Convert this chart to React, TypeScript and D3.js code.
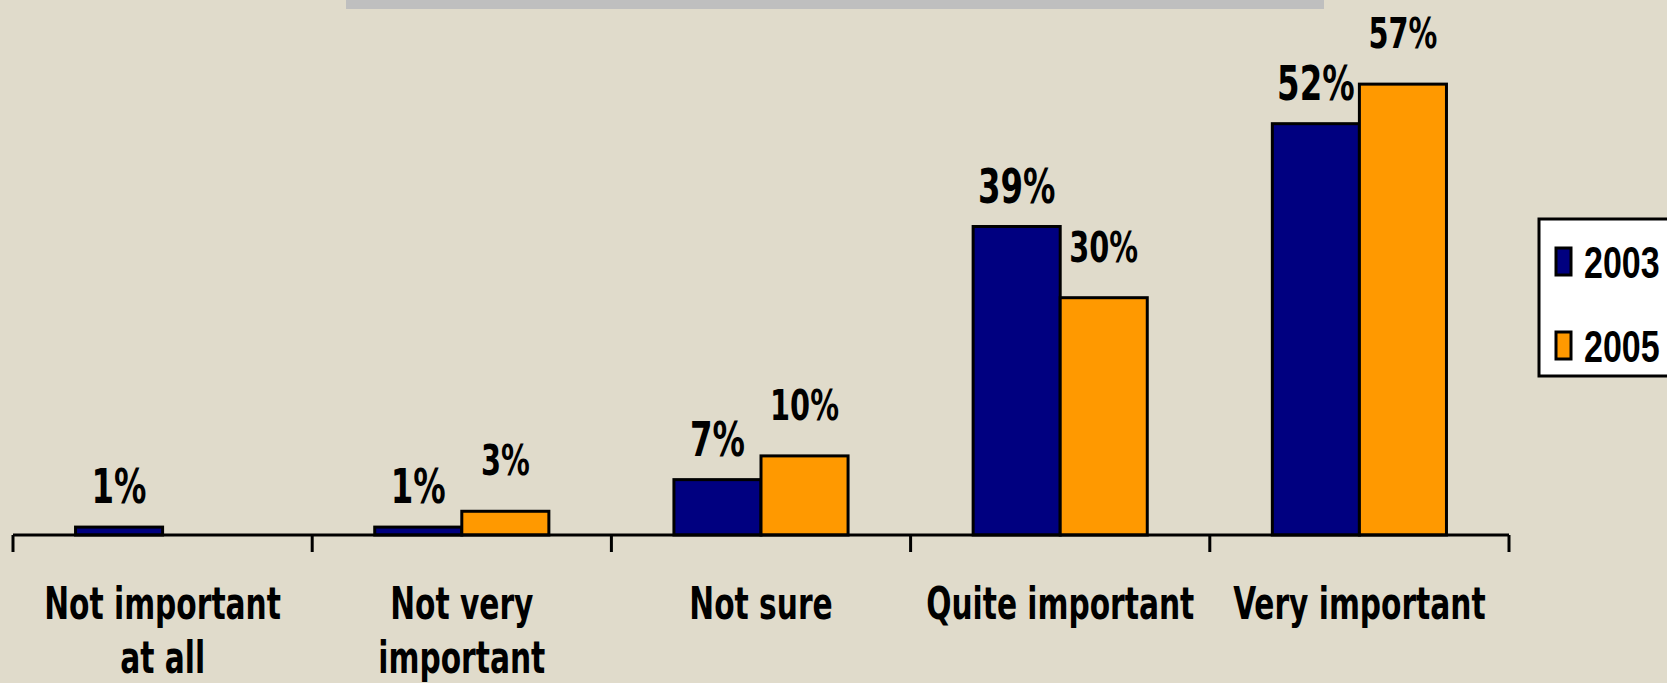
import React from 'react';
import * as d3 from 'd3';

const categories = ['Not important at all', 'Not very important', 'Not sure', 'Quite important', 'Very important'];
const categoryLines = [['Not important', 'at all'], ['Not very', 'important'], ['Not sure'], ['Quite important'], ['Very important']];
const seriesNames = ['2003', '2005'];
const values2003: (number | null)[] = [1, 1, 7, 39, 52];
const values2005: (number | null)[] = [null, 3, 10, 30, 57];

const W = 1667;
const H = 683;
const BG = '#E0DBCB';
const colors: Record<string, string> = { '2003': '#000080', '2005': '#FF9900' };
const labelSize: Record<string, number> = { '2003': 36, '2005': 32 };
const labelGap: Record<string, number> = { '2003': 24, '2005': 36 };
const condensed = "'DejaVu Sans Condensed', 'DejaVu Sans', sans-serif";

export default function App() {
  React.useEffect(() => {
    document.body.style.margin = '0';
    document.body.style.background = BG;
  }, []);

  const left = 13;
  const right = 1509;
  const base = 535;
  const x0 = d3.scaleBand<string>().domain(categories).range([left, right]).paddingInner(0.418).paddingOuter(0.209);
  const x1 = d3.scaleBand<string>().domain(seriesNames).range([0, x0.bandwidth()]);
  const y = d3.scaleLinear().domain([0, 60]).range([base, base - 60 * 7.91]);
  const step = x0.step();
  const ticks = d3.range(categories.length + 1).map((i) => left + i * step);
  const series = [
    { name: '2003', values: values2003 },
    { name: '2005', values: values2005 },
  ];

  return (
    <svg width={W} height={H} style={{ position: 'absolute', left: 0, top: 0, background: BG }}>
      <rect x={0} y={0} width={W} height={H} fill={BG} />
      <rect x={346} y={0} width={978} height={9} fill="#BFBFBF" />
      {series.map((s) => (
        <g key={s.name}>
          {s.values.map((v, i) => {
            if (v == null) return null;
            const bx = (x0(categories[i]) as number) + (x1(s.name) as number);
            const bw = x1.bandwidth();
            const top = y(v);
            return (
              <g key={i}>
                <rect x={bx} y={top} width={bw} height={base - top} fill={colors[s.name]} stroke="#000" strokeWidth={3} />
                <text
                  transform={`translate(${bx + bw / 2},${top - labelGap[s.name]}) scale(1,1.33)`}
                  textAnchor="middle"
                  fontFamily={condensed}
                  fontWeight="bold"
                  fontSize={labelSize[s.name]}
                  fill="#000"
                >
                  {v}%
                </text>
              </g>
            );
          })}
        </g>
      ))}
      <line x1={left} x2={right} y1={base} y2={base} stroke="#000" strokeWidth={3} />
      {ticks.map((t, i) => (
        <line key={i} x1={t} x2={t} y1={base} y2={552} stroke="#000" strokeWidth={3} />
      ))}
      {categoryLines.map((lines, i) => {
        const cx = (x0(categories[i]) as number) + x0.bandwidth() / 2;
        return lines.map((ln, j) => (
          <text
            key={`${i}-${j}`}
            transform={`translate(${cx},${619 + j * 54}) scale(1,1.36)`}
            textAnchor="middle"
            fontFamily={condensed}
            fontWeight="bold"
            fontSize={33}
            fill="#000"
          >
            {ln}
          </text>
        ));
      })}
      <rect x={1539} y={219} width={140} height={157} fill="#FFFFFF" stroke="#000" strokeWidth={3} />
      {seriesNames.map((n, i) => (
        <g key={n}>
          <rect x={1556} y={248 + i * 84} width={15} height={27} fill={colors[n]} stroke="#000" strokeWidth={3} />
          <text
            transform={`translate(1584,${278 + i * 84}) scale(1,1.3)`}
            fontFamily="'Liberation Sans', Arial, sans-serif"
            fontWeight="bold"
            fontSize={34}
            fill="#000"
          >
            {n}
          </text>
        </g>
      ))}
    </svg>
  );
}
